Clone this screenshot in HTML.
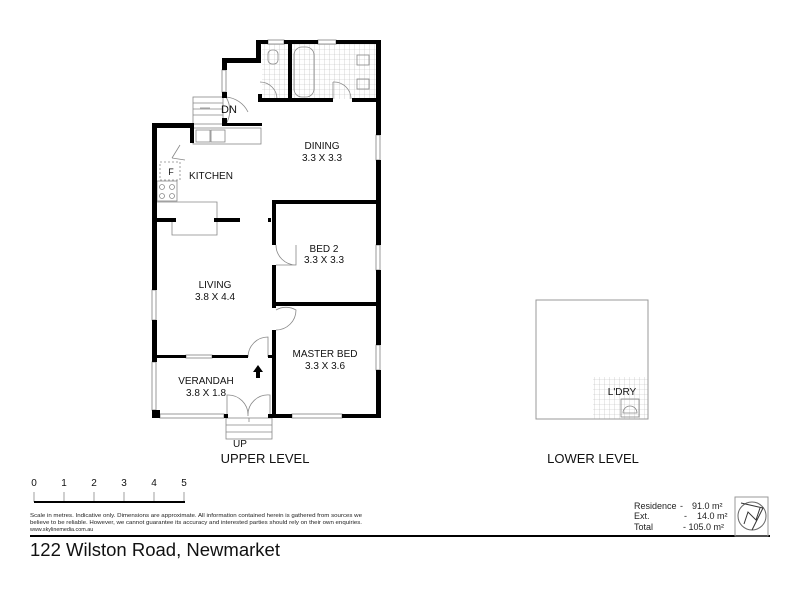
<!DOCTYPE html>
<html><head><meta charset="utf-8"><style>
html,body{margin:0;padding:0;background:#fff;}
svg{display:block;font-family:"Liberation Sans",sans-serif;}
</style></head><body>
<svg width="800" height="600" viewBox="0 0 800 600" xmlns="http://www.w3.org/2000/svg">
<defs>
<pattern id="tile" width="5" height="5" patternUnits="userSpaceOnUse"><path d="M5 0V5H0" fill="none" stroke="#bbb" stroke-width="0.6"/></pattern>
</defs>
<rect x="262" y="44" width="28" height="55" fill="url(#tile)"/>
<rect x="292" y="44" width="84" height="55" fill="url(#tile)"/>
<rect x="593" y="377" width="55" height="42" fill="url(#tile)"/>
<g fill="none" stroke="#888" stroke-width="0.8">
<rect x="193" y="97" width="30" height="27"/>
<line x1="193" y1="103" x2="223" y2="103"/><line x1="193" y1="109" x2="223" y2="109"/><line x1="193" y1="115" x2="223" y2="115"/>
<line x1="210" y1="108" x2="200" y2="108"/>
<rect x="193" y="128" width="68" height="16"/>
<rect x="196" y="130" width="14" height="12"/><rect x="211" y="130" width="14" height="12"/>
<rect x="160" y="162" width="20" height="18" stroke-dasharray="2,2"/>
<rect x="157" y="181" width="20" height="20"/>
<circle cx="162" cy="187" r="2.5"/><circle cx="172" cy="187" r="2.5"/><circle cx="162" cy="196" r="2.5"/><circle cx="172" cy="196" r="2.5"/>
<polyline points="156,202 180,202 180,202 217,202 217,235 172,235 172,220"/>
<rect x="294" y="47" width="20" height="50" rx="8"/>
<rect x="268" y="50" width="10" height="14" rx="4"/>
<rect x="357" y="55" width="12" height="10"/><rect x="357" y="79" width="12" height="10"/>
<path d="M260 82 A17 17 0 0 1 277 99"/>
<path d="M333 82 A17 17 0 0 1 351 99 M333 82 V99"/>
<path d="M226 97 A26 26 0 0 1 226 124"/><path d="M226 97 A27 27 0 0 1 248 112"/>
<path d="M180 145 L172 158 M172 158 L185 160"/>
<path d="M276 245 A20 20 0 0 0 296 265 M276 265 H296 V245"/>
<path d="M276 310 A20 20 0 0 1 296 310 A20 20 0 0 1 276 330"/>
<path d="M248 357 A20 20 0 0 1 268 337 V357"/>
<path d="M227 416 V395 A20 20 0 0 1 248 416 A20 20 0 0 1 270 395 V416"/>
<rect x="226" y="418" width="46" height="21"/>
<line x1="226" y1="425" x2="272" y2="425"/><line x1="226" y1="432" x2="272" y2="432"/>
<line x1="249" y1="418" x2="249" y2="422"/>
<rect x="621" y="399" width="18" height="18"/><path d="M623 413 A7 7 0 1 1 637 413 Z"/>
</g>
<g fill="none" stroke="#999" stroke-width="1">
<rect x="536" y="300" width="112" height="119"/>
<rect x="222" y="70" width="4" height="22"/>
<rect x="268" y="40" width="16" height="4"/><rect x="318" y="40" width="18" height="4"/>
<rect x="376" y="135" width="4" height="25"/><rect x="376" y="245" width="4" height="25"/><rect x="376" y="345" width="4" height="25"/>
<rect x="152" y="290" width="4" height="30"/><rect x="152" y="362" width="4" height="48"/>
<rect x="160" y="414" width="64" height="4"/><rect x="292" y="414" width="50" height="4"/>
<rect x="186" y="355" width="26" height="3"/>
</g>
<g fill="#000">
<rect x="152" y="123" width="42" height="5"/>
<rect x="152" y="123" width="5" height="167"/>
<rect x="152" y="320" width="5" height="42"/>
<rect x="152" y="410" width="8" height="8"/>
<rect x="190" y="123" width="4" height="20"/>
<rect x="222" y="123" width="40" height="3"/>
<rect x="222" y="58" width="5" height="12"/><rect x="222" y="92" width="5" height="6"/>
<rect x="222" y="118" width="5" height="6"/>
<rect x="222" y="58" width="38" height="5"/>
<rect x="256" y="40" width="5" height="23"/>
<rect x="256" y="40" width="12" height="4"/><rect x="284" y="40" width="34" height="4"/><rect x="336" y="40" width="44" height="4"/>
<rect x="376" y="40" width="5" height="95"/><rect x="376" y="160" width="5" height="85"/><rect x="376" y="270" width="5" height="75"/><rect x="376" y="370" width="5" height="48"/>
<rect x="288" y="42" width="4" height="58"/>
<rect x="258" y="94" width="4" height="8"/>
<rect x="260" y="98" width="73" height="4"/><rect x="352" y="98" width="28" height="4"/>
<rect x="152" y="218" width="24" height="4"/><rect x="214" y="218" width="26" height="4"/><rect x="268" y="218" width="3" height="4"/>
<rect x="273" y="200" width="107" height="4"/>
<rect x="272" y="200" width="4" height="45"/><rect x="272" y="265" width="4" height="43"/>
<rect x="272" y="302" width="108" height="4"/>
<rect x="272" y="330" width="4" height="88"/>
<rect x="156" y="355" width="30" height="3"/><rect x="212" y="355" width="36" height="3"/><rect x="268" y="355" width="5" height="3"/>
<rect x="224" y="414" width="4" height="4"/><rect x="268" y="414" width="24" height="4"/><rect x="342" y="414" width="38" height="4"/>
<path d="M258 365 L253 372 H256 V378 H260 V372 H263 Z"/>
<rect x="30" y="535" width="740" height="2"/>
</g>
<g stroke="#888" stroke-width="0.8">
<line x1="34" y1="492" x2="34" y2="502"/><line x1="64" y1="492" x2="64" y2="502"/><line x1="94" y1="492" x2="94" y2="502"/><line x1="124" y1="492" x2="124" y2="502"/><line x1="154" y1="492" x2="154" y2="502"/><line x1="184" y1="492" x2="184" y2="502"/>
</g>
<rect x="34" y="501" width="151" height="2" fill="#000"/>
<g font-size="10" fill="#111" text-anchor="middle">
<text x="322" y="149">DINING</text><text x="322" y="161">3.3 X 3.3</text>
<text x="211" y="179">KITCHEN</text>
<text x="171" y="175" font-size="9">F</text>
<text x="229" y="113" font-size="11">DN</text>
<text x="324" y="252">BED 2</text><text x="324" y="263">3.3 X 3.3</text>
<text x="215" y="288">LIVING</text><text x="215" y="300">3.8 X 4.4</text>
<text x="325" y="357">MASTER BED</text><text x="325" y="369">3.3 X 3.6</text>
<text x="206" y="384">VERANDAH</text><text x="206" y="396">3.8 X 1.8</text>
<text x="240" y="447">UP</text>
<text x="622" y="395">L'DRY</text>
<text x="265" y="463" font-size="13">UPPER LEVEL</text>
<text x="593" y="463" font-size="13">LOWER LEVEL</text>
<text x="34" y="486">0</text><text x="64" y="486">1</text><text x="94" y="486">2</text><text x="124" y="486">3</text><text x="154" y="486">4</text><text x="184" y="486">5</text>
</g>
<g font-size="5.4" fill="#222">
<text x="30" y="517" textLength="332" lengthAdjust="spacingAndGlyphs">Scale in metres. Indicative only. Dimensions are approximate. All information contained herein is gathered from sources we</text>
<text x="30" y="524" textLength="332" lengthAdjust="spacingAndGlyphs">believe to be reliable. However, we cannot guarantee its accuracy and interested parties should rely on their own enquiries.</text>
<text x="30" y="531">www.skylinemedia.com.au</text>
</g>
<g font-size="9" fill="#222">
<text x="634" y="509">Residence</text><text x="634" y="519">Ext.</text><text x="634" y="530">Total</text>
<text x="680" y="509">-</text><text x="684" y="519">-</text><text x="683" y="530">- 105.0 m²</text>
<text x="692" y="509">91.0 m²</text><text x="697" y="519">14.0 m²</text>
</g>
<rect x="735" y="497" width="33" height="39" fill="none" stroke="#999"/>
<circle cx="752" cy="516" r="14" fill="none" stroke="#666"/>
<path d="M744 524 L748 512 L756 520 L760 508 M741 503 L763 508 L752 530" fill="none" stroke="#333" stroke-width="1"/>
<text x="30" y="556" font-size="18" fill="#111" textLength="250" lengthAdjust="spacingAndGlyphs">122 Wilston Road, Newmarket</text>
</svg>
</body></html>
